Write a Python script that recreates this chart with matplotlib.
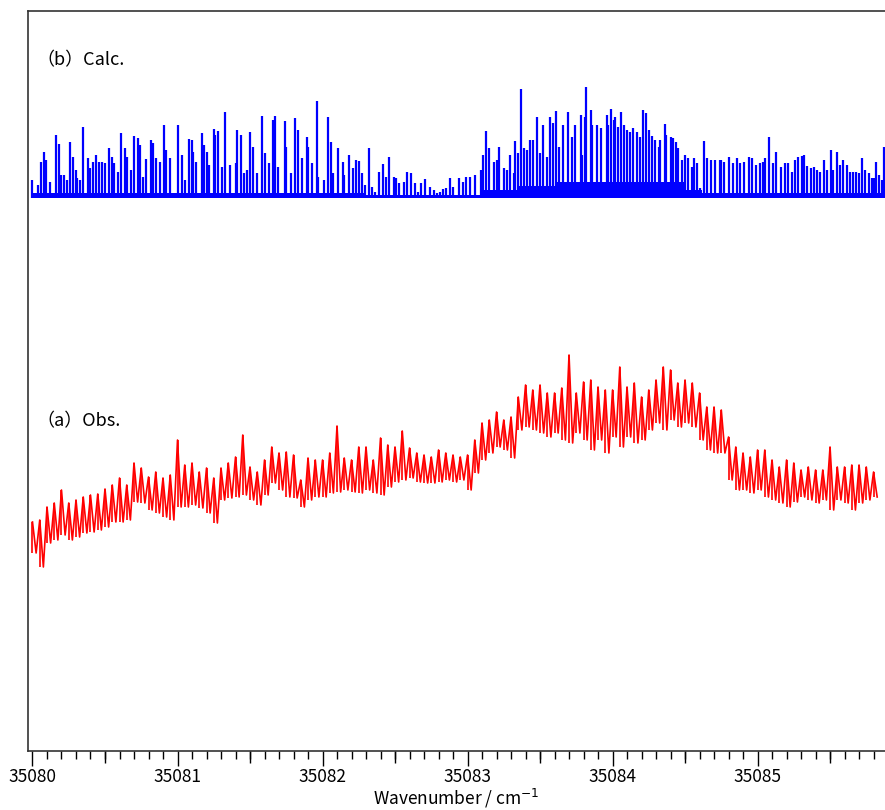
import numpy as np
import matplotlib
matplotlib.use("Agg")
import matplotlib.pyplot as plt
from matplotlib.ticker import MultipleLocator, NullFormatter

plt.rcParams['font.family'] = ['Noto Sans CJK JP', 'DejaVu Sans']

base = 35080.0

# calculated stick spectrum: positions (cm-1 above 35080) and heights
calc_pos = [
    0.00, 0.04, 0.06, 0.08, 0.09, 0.12, 0.16, 0.18, 0.20, 0.22,
    0.24, 0.26, 0.28, 0.30, 0.31, 0.33, 0.35, 0.38, 0.40, 0.42,
    0.44, 0.46, 0.48, 0.50, 0.53, 0.55, 0.56, 0.59, 0.61, 0.64,
    0.65, 0.68, 0.70, 0.73, 0.74, 0.76, 0.78, 0.82, 0.83, 0.85,
    0.88, 0.91, 0.92, 0.95, 1.00, 1.03, 1.05, 1.08, 1.10, 1.11,
    1.13, 1.17, 1.18, 1.20, 1.22, 1.25, 1.26, 1.28, 1.31, 1.33,
    1.36, 1.40, 1.41, 1.44, 1.46, 1.48, 1.50, 1.52, 1.55, 1.58,
    1.60, 1.63, 1.66, 1.67, 1.69, 1.74, 1.75, 1.78, 1.81, 1.83,
    1.86, 1.89, 1.90, 1.93, 1.96, 1.97, 2.01, 2.04, 2.06, 2.07,
    2.11, 2.14, 2.15, 2.18, 2.21, 2.23, 2.25, 2.27, 2.29, 2.32,
    2.34, 2.36, 2.39, 2.42, 2.44, 2.46, 2.49, 2.51, 2.53, 2.56,
    2.58, 2.61, 2.64, 2.66, 2.68, 2.71, 2.74, 2.77, 2.79, 2.81,
    2.83, 2.85, 2.88, 2.90, 2.94, 2.97, 2.99, 3.02, 3.05, 3.09,
    3.11, 3.13, 3.15, 3.18, 3.20, 3.22, 3.25, 3.27, 3.29, 3.32,
    3.33, 3.35, 3.37, 3.39, 3.41, 3.43, 3.45, 3.48, 3.50, 3.52,
    3.55, 3.57, 3.59, 3.61, 3.63, 3.66, 3.69, 3.72, 3.74, 3.78,
    3.79, 3.81, 3.82, 3.85, 3.86, 3.89, 3.92, 3.96, 3.97, 3.99,
    4.01, 4.02, 4.04, 4.06, 4.08, 4.10, 4.12, 4.14, 4.17, 4.19,
    4.21, 4.23, 4.25, 4.27, 4.29, 4.32, 4.33, 4.36, 4.37, 4.40,
    4.42, 4.44, 4.45, 4.48, 4.50, 4.52, 4.55, 4.56, 4.58, 4.60,
    4.63, 4.65, 4.68, 4.71, 4.74, 4.75, 4.77, 4.80, 4.83, 4.86,
    4.88, 4.91, 4.94, 4.96, 4.99, 5.02, 5.04, 5.05, 5.08, 5.11,
    5.13, 5.16, 5.19, 5.21, 5.24, 5.26, 5.28, 5.31, 5.32, 5.34,
    5.37, 5.39, 5.41, 5.43, 5.46, 5.48, 5.51, 5.52, 5.55, 5.57,
    5.59, 5.62, 5.64, 5.66, 5.68, 5.70, 5.72, 5.74, 5.77, 5.79,
    5.80, 5.82, 5.84, 5.86, 5.87,
]
calc_peak = [
    0.18, 0.13, 0.36, 0.46, 0.38, 0.16, 0.63, 0.54, 0.23, 0.23,
    0.18, 0.56, 0.41, 0.28, 0.20, 0.18, 0.71, 0.40, 0.30, 0.36,
    0.43, 0.36, 0.36, 0.35, 0.50, 0.41, 0.35, 0.26, 0.65, 0.50,
    0.41, 0.28, 0.62, 0.60, 0.53, 0.21, 0.39, 0.58, 0.55, 0.40,
    0.36, 0.73, 0.48, 0.40, 0.73, 0.43, 0.18, 0.59, 0.58, 0.46,
    0.36, 0.65, 0.53, 0.46, 0.33, 0.69, 0.63, 0.67, 0.31, 0.86,
    0.33, 0.35, 0.68, 0.63, 0.25, 0.28, 0.66, 0.51, 0.25, 0.82,
    0.45, 0.35, 0.78, 0.82, 0.31, 0.77, 0.51, 0.25, 0.80, 0.68,
    0.40, 0.61, 0.51, 0.35, 0.97, 0.21, 0.18, 0.81, 0.56, 0.25,
    0.50, 0.36, 0.23, 0.43, 0.30, 0.38, 0.37, 0.25, 0.13, 0.50,
    0.11, 0.06, 0.26, 0.34, 0.21, 0.41, 0.21, 0.20, 0.15, 0.16,
    0.26, 0.25, 0.15, 0.06, 0.15, 0.19, 0.11, 0.08, 0.05, 0.06,
    0.09, 0.10, 0.20, 0.11, 0.20, 0.16, 0.21, 0.21, 0.23, 0.28,
    0.43, 0.67, 0.50, 0.36, 0.38, 0.51, 0.30, 0.28, 0.43, 0.25,
    0.57, 0.45, 1.09, 0.50, 0.48, 0.58, 0.58, 0.81, 0.45, 0.73,
    0.41, 0.81, 0.75, 0.87, 0.51, 0.73, 0.86, 0.61, 0.73, 0.83,
    0.43, 0.81, 1.11, 0.88, 0.73, 0.73, 0.70, 0.83, 0.73, 0.89,
    0.78, 0.81, 0.71, 0.86, 0.73, 0.68, 0.66, 0.70, 0.66, 0.61,
    0.88, 0.85, 0.68, 0.62, 0.58, 0.51, 0.58, 0.74, 0.63, 0.61,
    0.60, 0.56, 0.50, 0.38, 0.43, 0.40, 0.31, 0.40, 0.35, 0.10,
    0.57, 0.40, 0.38, 0.38, 0.38, 0.38, 0.36, 0.41, 0.35, 0.40,
    0.35, 0.36, 0.41, 0.40, 0.33, 0.35, 0.36, 0.40, 0.61, 0.35,
    0.46, 0.31, 0.35, 0.35, 0.26, 0.38, 0.41, 0.42, 0.43, 0.32,
    0.30, 0.31, 0.28, 0.26, 0.38, 0.28, 0.48, 0.28, 0.46, 0.33,
    0.38, 0.33, 0.26, 0.26, 0.26, 0.25, 0.40, 0.28, 0.25, 0.20,
    0.20, 0.36, 0.23, 0.18, 0.51,
]
# weak lines under the sticks (band of unresolved structure)
calc_floor_edges = [0.00, 2.30, 3.10, 3.35, 3.60, 4.50, 4.62, 5.88]
calc_floor_level = [0.05, 0.03, 0.08, 0.12, 0.16, 0.08, 0.05]
calc_offset = 5.53

# observed spectrum: upper / lower noise envelope every 0.05 cm-1
obs_start = 35080.0
obs_step = 0.05
obs_hi = [
    2.29, 2.31, 2.44, 2.48, 2.61, 2.48, 2.51, 2.54, 2.56, 2.57,
    2.62, 2.66, 2.73, 2.66, 2.88, 2.83, 2.74, 2.79, 2.73, 2.76,
    3.11, 2.86, 2.88, 2.79, 2.83, 2.73, 2.83, 2.88, 2.94, 3.16,
    2.84, 2.79, 2.91, 3.04, 2.98, 2.99, 2.96, 2.71, 2.93, 2.91,
    2.91, 2.98, 3.25, 2.93, 2.91, 3.04, 3.04, 2.91, 3.13, 3.06,
    3.04, 3.20, 3.03, 2.98, 2.96, 2.94, 3.01, 2.98, 2.96, 2.94,
    2.96, 3.11, 3.28, 3.31, 3.39, 3.31, 3.34, 3.54, 3.66, 3.61,
    3.66, 3.58, 3.58, 3.63, 3.96, 3.58, 3.69, 3.71, 3.64, 3.61,
    3.61, 3.84, 3.64, 3.68, 3.54, 3.61, 3.71, 3.84, 3.81, 3.68,
    3.71, 3.68, 3.58, 3.44, 3.44, 3.41, 3.14, 3.04, 2.98, 2.94,
    3.01, 3.01, 2.91, 2.84, 2.91, 2.88, 2.81, 2.84, 2.81, 2.81,
    3.04, 2.84, 2.84, 2.86, 2.86, 2.84, 2.79,
]
obs_lo = [
    1.98, 1.84, 2.08, 2.11, 2.16, 2.11, 2.14, 2.18, 2.19, 2.21,
    2.24, 2.29, 2.29, 2.31, 2.49, 2.48, 2.41, 2.38, 2.34, 2.31,
    2.44, 2.44, 2.46, 2.43, 2.38, 2.28, 2.51, 2.53, 2.54, 2.56,
    2.51, 2.46, 2.56, 2.68, 2.61, 2.54, 2.53, 2.44, 2.51, 2.54,
    2.54, 2.58, 2.59, 2.61, 2.59, 2.58, 2.61, 2.58, 2.56, 2.64,
    2.69, 2.71, 2.73, 2.69, 2.68, 2.68, 2.69, 2.71, 2.69, 2.71,
    2.61, 2.78, 2.91, 2.98, 3.04, 3.01, 2.93, 3.21, 3.24, 3.21,
    3.18, 3.14, 3.18, 3.11, 3.08, 3.18, 3.11, 3.01, 3.11, 2.98,
    3.14, 3.04, 3.14, 3.08, 3.11, 3.21, 3.28, 3.21, 3.31, 3.24,
    3.28, 3.24, 3.11, 3.01, 2.98, 2.98, 2.71, 2.61, 2.61, 2.58,
    2.61, 2.54, 2.51, 2.48, 2.44, 2.49, 2.54, 2.51, 2.48, 2.51,
    2.41, 2.51, 2.48, 2.41, 2.48, 2.51, 2.54,
]

fig = plt.figure(figsize=(8.85, 8.10), dpi=100)
ax = fig.add_axes([28 / 885, 59 / 810, 857 / 885, 740 / 810])

# (b) calc
blue = '#0000ff'
ax.stairs(calc_offset + np.array(calc_floor_level), base + np.array(calc_floor_edges),
          baseline=calc_offset, fill=True, color=blue, lw=0)
ax.vlines(base + np.array(calc_pos), calc_offset, calc_offset + np.array(calc_peak),
          color=blue, lw=1.6)

# (a) obs: noise band drawn as vertical strokes plus a zig-zag between envelopes
red = '#ff0000'
x_hi = obs_start + obs_step * np.arange(len(obs_hi))
ax.vlines(x_hi, obs_lo, obs_hi, color=red, lw=1.2)
x = np.column_stack([x_hi, x_hi + obs_step / 2]).ravel()
y = np.column_stack([obs_hi, obs_lo]).ravel()
ax.plot(x, y, color=red, lw=1.2)

ax.text(8 / 857, (751 - 60) / 740, '（b）Calc.', transform=ax.transAxes,
        fontsize=13, va='center', ha='left')
ax.text(8 / 857, (751 - 421) / 740, '（a）Obs.', transform=ax.transAxes,
        fontsize=13, va='center', ha='left')

ax.set_xlim(35079.969, 35085.879)
ax.set_ylim(0, 7.40)
ax.set_yticks([])
ax.xaxis.set_major_locator(MultipleLocator(1))
ax.xaxis.set_minor_locator(MultipleLocator(0.1))
ax.tick_params(axis='x', which='major', direction='out', length=11, width=1,
               labelsize=12.5, pad=1)
ax.tick_params(axis='x', which='minor', direction='out', length=6, width=1)
ax.xaxis.get_major_formatter().set_useOffset(False)

# slightly longer ticks at the half-wavenumbers
sec = ax.secondary_xaxis('bottom')
sec.set_xticks(np.arange(35080.5, 35086, 1.0))
sec.xaxis.set_major_formatter(NullFormatter())
sec.tick_params(axis='x', direction='out', length=8.5, width=1)
sec.spines['bottom'].set_visible(False)

ax.spines['right'].set_visible(False)
for s in ['left', 'top', 'bottom']:
    ax.spines[s].set_color('#333333')
    ax.spines[s].set_linewidth(1.2)

ax.set_xlabel('Wavenumber / cm$^{-1}$', fontsize=12.5, labelpad=1)

fig.savefig('out.png', dpi=100)
